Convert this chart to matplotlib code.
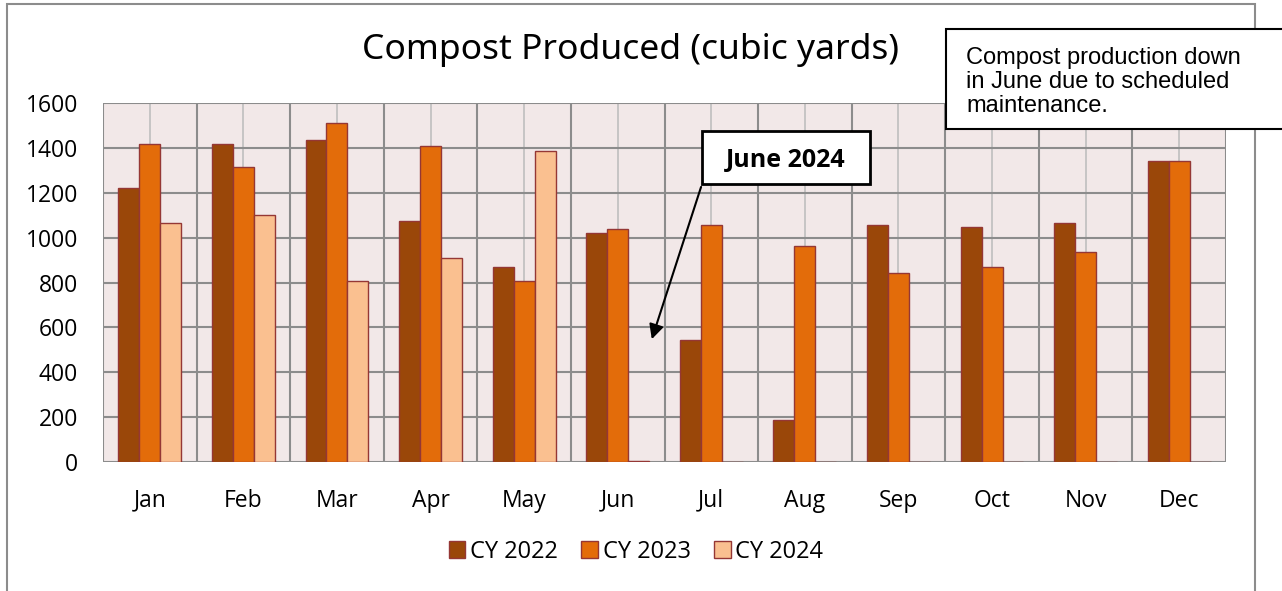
import numpy as np
import matplotlib
matplotlib.use("Agg")
import matplotlib.pyplot as plt
from matplotlib.patches import Rectangle

months = ["Jan", "Feb", "Mar", "Apr", "May", "Jun",
          "Jul", "Aug", "Sep", "Oct", "Nov", "Dec"]
cy_2022 = [1220, 1418, 1434, 1073, 867, 1022, 542, 190, 1056, 1049, 1065, 1341]
cy_2023 = [1416, 1314, 1511, 1407, 807, 1040, 1056, 963, 843, 867, 936, 1341]
cy_2024 = [1064, 1099, 806, 911, 1384, 4, 0, 0, 0, 0, 0, 0]
series_names = ["CY 2022", "CY 2023", "CY 2024"]
y_ticks = [0, 200, 400, 600, 800, 1000, 1200, 1400, 1600]

colors = ["#9A4709", "#E36C0A", "#FAC090"]
edge = "#953735"

plt.rcParams["font.family"] = ["Open Sans", "DejaVu Sans"]

fig = plt.figure(figsize=(12.82, 5.91), dpi=100)
W, H = 1282, 591

# outer chart frame
fig.patches.append(Rectangle((7 / W, -0.05), (1255 - 7) / W, (H - 4) / H + 0.05,
                             transform=fig.transFigure, fill=False,
                             edgecolor="#8C8C8C", linewidth=1.5))

ax = fig.add_axes([103 / W, 1 - 462.3 / H, (1226 - 103) / W, (462.3 - 102.7) / H])
ax.set_facecolor("#F2E8E8")

x = np.arange(len(months))
bar_w = 0.224
for i, vals in enumerate([cy_2022, cy_2023, cy_2024]):
    ax.bar(x + (i - 1) * bar_w, vals, width=bar_w, color=colors[i],
           edgecolor=edge, linewidth=1.0, label=series_names[i], zorder=3)

ax.set_xlim(-0.5, len(months) - 0.5)
ax.set_ylim(0, 1600)
ax.set_yticks(y_ticks)
ax.set_yticklabels([str(v) for v in y_ticks])
ax.set_xticks(x)
ax.set_xticklabels(months)

# gridlines: horizontal + category boundaries (dark), category centres (light)
for v in y_ticks:
    ax.axhline(v, color="#8C8C8C", linewidth=1.5, zorder=1)
for b in np.arange(-0.5, len(months) + 0.5, 1):
    ax.axvline(b, color="#8C8C8C", linewidth=1.5, zorder=1)
for c in x:
    ax.axvline(c, color="#BFBFBF", linewidth=1.2, zorder=0.5)

for s in ax.spines.values():
    s.set_visible(False)
ax.tick_params(axis="both", length=0, labelsize=16.5, colors="black")
ax.tick_params(axis="y", pad=18)
ax.tick_params(axis="x", pad=19)

fig.text(630 / W, 1 - 50 / H, "Compost Produced (cubic yards)",
         ha="center", va="center", fontsize=25.5, family=["Noto Sans", "DejaVu Sans"])

# June 2024 callout with arrow
ax.annotate("", xy=(5.355, 536), xytext=(5.9, 1237),
            arrowprops=dict(arrowstyle="-|>", color="black", lw=1.5,
                            mutation_scale=22), zorder=6)
ax.add_patch(Rectangle((5.9, 1237), 1.8, 238, facecolor="white",
                       edgecolor="black", linewidth=2, zorder=7))
ax.text(6.8, 1345, "June 2024", ha="center", va="center", fontsize=18,
        fontweight="bold", zorder=8)

# note box at top right
fig.patches.append(Rectangle((946 / W, 1 - 129 / H), 0.3, 100 / H,
                             transform=fig.transFigure, facecolor="white",
                             edgecolor="black", linewidth=1.5, zorder=10))
fig.text(966 / W, 1 - 82 / H,
         "Compost production down\nin June due to scheduled\nmaintenance.",
         ha="left", va="center", fontsize=17, linespacing=1.12,
         family=["Liberation Sans", "DejaVu Sans"], zorder=11)

fig.legend(loc="center", bbox_to_anchor=(636 / W, 1 - 552 / H), ncol=3,
           frameon=False, fontsize=17, handlelength=0.7, handleheight=0.7,
           handletextpad=0.2, columnspacing=1.0)

fig.savefig("out.png", dpi=100)
